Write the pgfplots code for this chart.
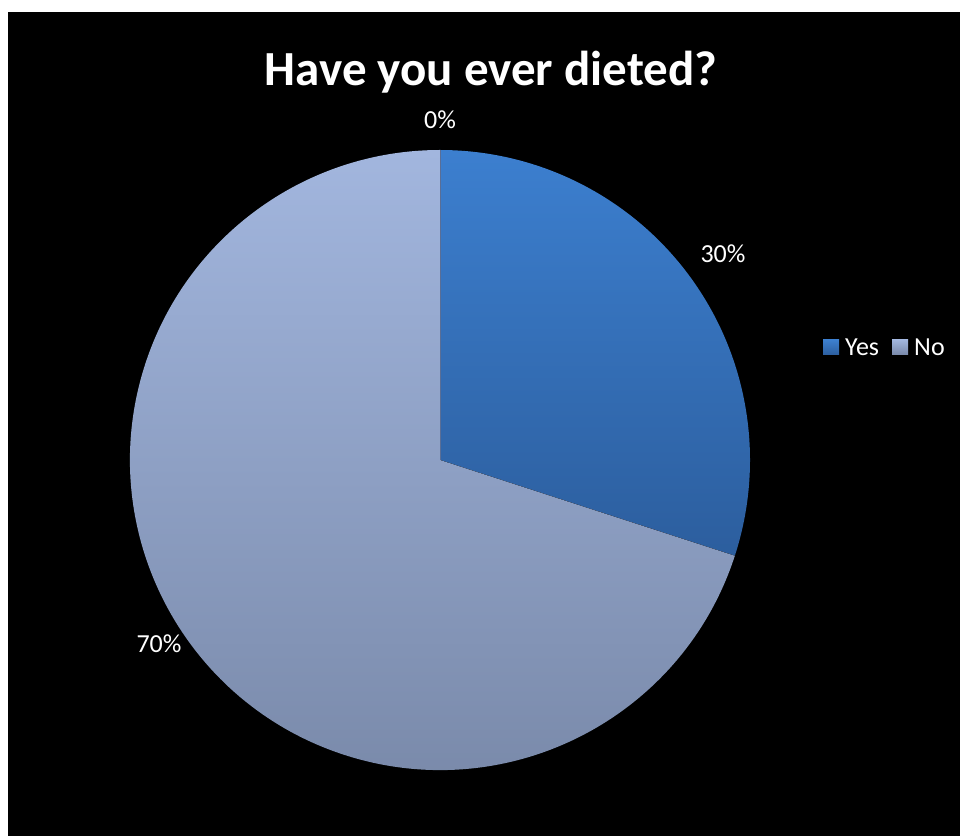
\documentclass[border=0pt]{standalone}
\usepackage{pgfplots}
\usepackage{pgfplotstable}
\pgfplotsset{compat=1.18}
\usepackage{fontspec}
\setmainfont{Carlito}
\definecolor{yestop}{RGB}{60,127,207}
\definecolor{yesbot}{RGB}{44,94,158}
\definecolor{notop}{RGB}{162,182,222}
\definecolor{nobot}{RGB}{120,136,168}
\definecolor{sep}{RGB}{90,110,150}
\pgfplotstableread{
label value
Yes 30
No 70
}\piedata
\begin{document}
\begin{tikzpicture}
\pgfplotstablegetelem{0}{value}\of\piedata \let\vyes\pgfplotsretval
\pgfplotstablegetelem{1}{value}\of\piedata \let\vno\pgfplotsretval
\pgfmathsetmacro{\aend}{90-360*\vyes/(\vyes+\vno)}
\begin{axis}[width=960pt,height=836pt,scale only axis,xmin=0,xmax=960,ymin=0,ymax=836,hide axis,clip=false]
\fill[white] (axis cs:0,0) rectangle (axis cs:960,836);
\fill[black] (axis cs:8,0) rectangle (axis cs:960,824);
\fill[top color=yestop,bottom color=yesbot] (axis cs:440,376) -- ++(90:310pt) arc[start angle=90,end angle=\aend,radius=310pt] -- cycle;
\fill[top color=notop,bottom color=nobot] (axis cs:440,376) -- ++(\aend:310pt) arc[start angle=\aend,end angle=-270,radius=310pt] -- cycle;
\draw[sep,line width=0.5pt] (axis cs:440,376) -- ++(90:310pt);
\node[white,anchor=base,font=\fontsize{49}{56}\selectfont\bfseries] at (axis cs:491,750) {Have you ever dieted?};
\node[white,anchor=base,font=\fontsize{26}{30}\selectfont] at (axis cs:440,707) {0\%};
\node[white,anchor=base,font=\fontsize{26}{30}\selectfont] at (axis cs:723,573) {30\%};
\node[white,anchor=base,font=\fontsize{26}{30}\selectfont] at (axis cs:159,184) {70\%};
\fill[top color=yestop,bottom color=yesbot] (axis cs:823,481) rectangle (axis cs:839,496);
\node[white,anchor=base west,inner sep=0pt,font=\fontsize{26}{30}\selectfont] at (axis cs:845,480) {Yes};
\fill[top color=notop,bottom color=nobot] (axis cs:892,481) rectangle (axis cs:908,496);
\node[white,anchor=base west,inner sep=0pt,font=\fontsize{26}{30}\selectfont] at (axis cs:914,480) {No};
\end{axis}
\end{tikzpicture}
\end{document}
